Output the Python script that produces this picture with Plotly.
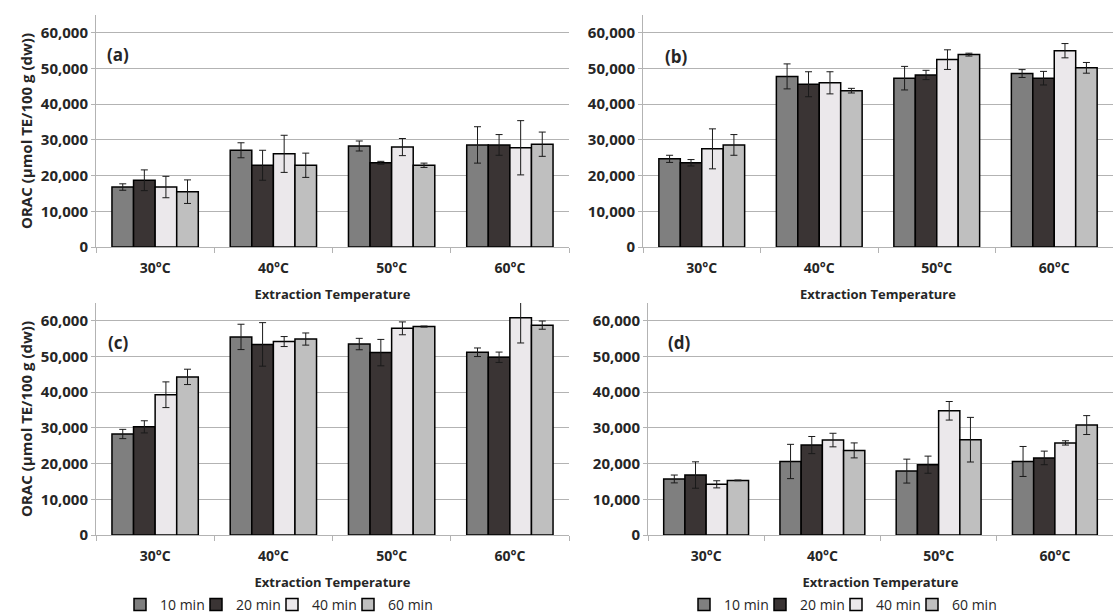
import plotly.graph_objects as go

temps = ["30°C", "40°C", "50°C", "60°C"]
times = ["10 min", "20 min", "40 min", "60 min"]
colors = ["#7f7f7f", "#3a3434", "#ebe8eb", "#bfbfbf"]

# panel (a)
a_vals = {
    "10 min": [16800, 27100, 28300, 28600],
    "20 min": [18700, 22900, 23600, 28600],
    "40 min": [16800, 26100, 28000, 27800],
    "60 min": [15500, 22900, 22900, 28800],
}
a_err = {
    "10 min": [900, 2100, 1400, 5100],
    "20 min": [2900, 4200, 400, 2900],
    "40 min": [3000, 5200, 2400, 7600],
    "60 min": [3300, 3400, 600, 3400],
}
# panel (b)
b_vals = {
    "10 min": [24700, 47800, 47300, 48600],
    "20 min": [23600, 45600, 48200, 47300],
    "40 min": [27500, 46000, 52500, 55000],
    "60 min": [28600, 43800, 53900, 50200],
}
b_err = {
    "10 min": [1000, 3500, 3300, 1100],
    "20 min": [900, 3500, 1300, 1900],
    "40 min": [5600, 3100, 2750, 2000],
    "60 min": [2900, 650, 400, 1500],
}
# panel (c)
c_vals = {
    "10 min": [28300, 55500, 53500, 51200],
    "20 min": [30300, 53400, 51100, 49800],
    "40 min": [39300, 54200, 57900, 60900],
    "60 min": [44300, 54900, 58400, 58800],
}
c_err = {
    "10 min": [1300, 3550, 1600, 1200],
    "20 min": [1700, 6100, 3700, 1450],
    "40 min": [3600, 1400, 1800, 7100],
    "60 min": [2150, 1700, 150, 1150],
}
# panel (d)
d_vals = {
    "10 min": [15700, 20600, 17900, 20600],
    "20 min": [16800, 25200, 19700, 21600],
    "40 min": [14200, 26600, 34800, 25800],
    "60 min": [15300, 23700, 26700, 30800],
}
d_err = {
    "10 min": [1100, 4800, 3350, 4200],
    "20 min": [3700, 2400, 2400, 1900],
    "40 min": [1000, 1900, 2600, 600],
    "60 min": [100, 2100, 6250, 2650],
}

panel_labels = ["(a)", "(b)", "(c)", "(d)"]
y_title = "ORAC (µmol TE/100 g (dw))"
x_title = "Extraction Temperature"

W, H = 1113, 615
FONT = "Open Sans"
TXT = "#262626"
GRID = "#b3b3b3"

# pixel layout (left, right, bottom, top)
boxes = [(96, 569, 247, 15), (643, 1113, 247, 15), (96, 569, 535, 303), (648, 1113, 535, 303)]

fig = go.Figure()
panels = [(a_vals, a_err), (b_vals, b_err), (c_vals, c_err), (d_vals, d_err)]
for p, (vals, errs) in enumerate(panels):
    xa = "x" if p == 0 else f"x{p+1}"
    ya = "y" if p == 0 else f"y{p+1}"
    for i, t in enumerate(times):
        legend = None
        show = False
        if p == 2:
            legend, show = "legend", True
        elif p == 3:
            legend, show = "legend2", True
        kw = dict(legend=legend) if legend else {}
        if show and i == len(times) - 1:
            kw["legendwidth"] = 60
        fig.add_trace(go.Bar(
            x=temps, y=vals[t], name=t, xaxis=xa, yaxis=ya,
            marker=dict(color=colors[i], line=dict(color="#000000", width=1.5)),
            error_y=dict(type="data", array=errs[t], color="#1a1a1a", thickness=1, width=3.5),
            showlegend=show, **kw,
        ))

layout = dict(
    width=W, height=H, margin=dict(l=0, r=0, t=0, b=0, autoexpand=False),
    paper_bgcolor="white", plot_bgcolor="white",
    barmode="group", bargap=0.27, bargroupgap=0,
    font=dict(family=FONT, color=TXT),
    annotations=[],
)
for p, (l, r, b, t) in enumerate(boxes):
    sx = "" if p == 0 else str(p + 1)
    layout["xaxis" + sx] = dict(
        domain=[l / W, r / W], anchor="y" + sx, type="category",
        tickson="boundaries", ticks="outside", ticklen=5, tickcolor=GRID,
        showline=True, linecolor=GRID, linewidth=1, showgrid=False,
        ticklabelstandoff=8,
        tickfont=dict(size=14, family=FONT, color=TXT, weight="bold"),
        title=dict(text=x_title, font=dict(size=13, family=FONT, color=TXT, weight="bold"), standoff=14),
        fixedrange=True,
    )
    layout["yaxis" + sx] = dict(
        domain=[1 - b / H, 1 - t / H], anchor="x" + sx, range=[0, 65000],
        tickvals=[0, 10000, 20000, 30000, 40000, 50000, 60000], tickformat=",d",
        ticks="outside", ticklen=4, tickcolor=GRID,
        showline=True, linecolor=GRID, linewidth=1, showgrid=True, gridcolor=GRID, gridwidth=1,
        zeroline=False,
        tickfont=dict(size=15, family=FONT, color=TXT, weight="bold"),
        title=dict(text=y_title if p in (0, 2) else "", font=dict(size=15, family=FONT, color=TXT, weight="bold"), standoff=4),
        fixedrange=True,
    )

lab_pos = [(0.02, 0.828), (0.043, 0.82), (0.021, 0.828), (0.039, 0.828)]
for p, (lx, ly) in enumerate(lab_pos):
    sx = "" if p == 0 else str(p + 1)
    layout["annotations"].append(dict(
        text=panel_labels[p], xref=f"x{sx} domain", yref=f"y{sx} domain",
        x=lx, y=ly, xanchor="left", yanchor="middle", showarrow=False,
        font=dict(size=17, family=FONT, color=TXT, weight="bold"),
    ))

leg_common = dict(orientation="h", yanchor="middle", xanchor="left", y=1 - 605 / H,
                  font=dict(size=14, family=FONT, color=TXT), bgcolor="rgba(0,0,0,0)",
                  itemwidth=30, entrywidth=31, tracegroupgap=0)
layout["legend"] = dict(x=120 / W, **leg_common)
layout["legend2"] = dict(x=684 / W, **leg_common)

fig.update_layout(**layout)
fig.write_html("out.html", config={"displayModeBar": False},
               post_script="document.body.style.margin='0';")
